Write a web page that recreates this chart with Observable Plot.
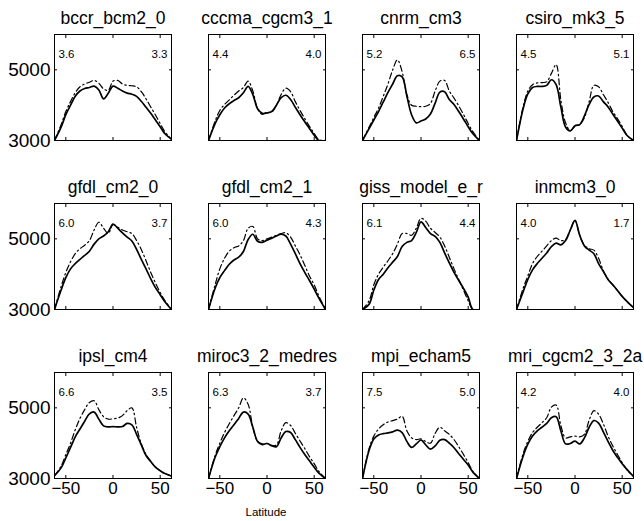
<!DOCTYPE html>
<html><head><meta charset="utf-8">
<script src="https://cdn.jsdelivr.net/npm/d3@7"></script>
<script src="https://cdn.jsdelivr.net/npm/@observablehq/plot@0.6"></script>
<style>
html,body{margin:0;padding:0;background:#fff;}
#wrap{position:relative;width:644px;height:521px;font-family:"Liberation Sans",Arial,sans-serif;overflow:hidden;}
#xlabel{position:absolute;left:216px;width:100px;top:506px;text-align:center;font-size:11.5px;color:#000;}
</style></head><body>
<div id="wrap"><div id="xlabel">Latitude</div></div>
<script>
const lat = [-62,-55,-50,-45,-40,-35,-30,-25,-20,-15,-10,-5,0,5,10,15,20,25,30,35,40,45,50,55,62];
const xTicks = [-50, 0, 50];
const yTicks = [3000, 5000];

const models = ["bccr_bcm2_0","cccma_cgcm3_1","cnrm_cm3","csiro_mk3_5","gfdl_cm2_0","gfdl_cm2_1","giss_model_e_r","inmcm3_0","ipsl_cm4","miroc3_2_medres","mpi_echam5","mri_cgcm2_3_2a"];
const leftVals  = ["3.6","4.4","5.2","4.5","6.0","6.0","6.1","4.0","6.6","6.3","7.5","4.2"];
const rightVals = ["3.3","4.0","6.5","5.1","3.7","4.3","4.4","1.7","3.5","3.7","5.0","4.0"];

const bccr_solid = [3000,3380,3730,4000,4250,4400,4470,4500,4540,4430,4180,4340,4540,4480,4400,4340,4310,4250,4110,3940,3770,3580,3390,3190,3040];
const bccr_dash  = [3000,3450,3820,4100,4350,4520,4600,4650,4700,4620,4460,4420,4680,4700,4600,4560,4550,4520,4380,4180,3950,3720,3480,3250,3030];
const cccma_solid = [3000,3480,3730,3920,4040,4130,4210,4350,4530,4300,3900,3770,3780,3820,4000,4210,4280,4160,3940,3730,3530,3340,3150,3000,3000];
const cccma_dash  = [3000,3550,3850,4020,4150,4280,4400,4500,4680,4400,3900,3740,3800,3800,4000,4300,4480,4380,4100,3850,3620,3400,3200,3020,3000];
const cnrm_solid = [3000,3340,3580,3820,4090,4360,4600,4830,4800,4260,3730,3500,3550,3610,3750,4060,4370,4380,4160,4020,3820,3610,3390,3190,3000];
const cnrm_dash  = [3000,3380,3650,3920,4250,4600,5000,5280,4950,4300,4000,3970,3960,3970,4050,4400,4680,4700,4400,4200,3980,3740,3480,3250,3000];
const csiro_solid = [3000,3900,4320,4500,4530,4530,4560,4720,4580,3950,3380,3270,3420,3450,3700,4020,4230,4260,4100,3950,3750,3550,3350,3150,3000];
const csiro_dash  = [3000,3950,4400,4580,4630,4640,4660,4900,5150,4150,3500,3280,3400,3450,3650,4100,4560,4520,4300,4080,3820,3620,3400,3150,3000];
const gfdl0_solid = [3000,3550,3900,4150,4300,4420,4530,4650,4850,5000,5080,5200,5420,5300,5170,5050,4940,4700,4420,4150,3870,3620,3420,3220,3000];
const gfdl0_dash  = [3000,3650,4050,4350,4580,4720,4820,4950,5250,5470,5300,5150,5400,5330,5250,5200,5150,4950,4700,4380,4050,3750,3480,3250,3000];
const gfdl1_solid = [3000,3600,3900,4100,4280,4400,4480,4640,4980,5130,4930,4900,4960,5020,5080,5130,5080,4850,4580,4300,4050,3820,3580,3320,3000];
const gfdl1_dash  = [3000,3700,4150,4450,4650,4750,4800,4950,5300,5350,5000,4950,5000,5050,5100,5150,5170,5050,4800,4550,4250,3950,3700,3380,3000];
const giss_solid = [3000,3150,3550,3850,4000,4180,4340,4500,4780,4900,4950,5180,5480,5320,5150,5070,4900,4600,4320,4050,3820,3600,3350,3000,3000];
const giss_dash  = [3000,3250,3700,4000,4200,4380,4580,4850,5150,5150,5100,5300,5580,5500,5300,5180,5050,4800,4480,4150,3850,3550,3250,3000,3000];
const inmcm_solid = [3000,3500,3850,4120,4300,4450,4600,4780,4880,4830,4950,5250,5520,5100,4800,4680,4580,4300,4080,3850,3700,3540,3370,3230,3050];
const inmcm_dash  = [3000,3600,3950,4300,4500,4650,4800,4950,5020,4950,4980,5250,5520,5100,4820,4720,4680,4450,4100,3860,3700,3540,3370,3230,3050];
const ipsl_solid = [3080,3300,3580,3880,4180,4400,4620,4830,4880,4680,4490,4460,4470,4460,4470,4560,4520,4250,3950,3650,3480,3320,3220,3140,3070];
const ipsl_dash  = [3080,3350,3680,4000,4380,4700,4950,5150,5200,4950,4750,4680,4690,4710,4780,4920,5000,4450,3980,3680,3490,3320,3220,3140,3070];
const miroc_solid = [3000,3600,3900,4150,4350,4520,4700,4880,4820,4450,4050,3960,3990,3930,3900,4150,4330,4300,4100,3880,3680,3500,3320,3150,3000];
const miroc_dash  = [3000,3650,4000,4300,4550,4780,5000,5280,5100,4450,4050,3980,3990,3930,3950,4350,4580,4500,4280,4060,3850,3620,3420,3200,3000];
const mpi_solid = [3000,3800,4120,4230,4270,4290,4320,4370,4300,4050,3880,3980,4090,3950,3830,3920,4080,4100,4000,3870,3700,3540,3380,3180,3000];
const mpi_dash  = [3000,3850,4200,4400,4520,4600,4640,4680,4760,4350,4150,4100,4120,4050,4000,4280,4450,4350,4250,4100,3900,3680,3450,3200,3000];
const mri_solid = [3000,3630,3970,4200,4350,4450,4560,4720,4750,4350,3980,3990,4060,3980,4150,4450,4640,4570,4320,4050,3800,3600,3420,3260,3060];
const mri_dash  = [3000,3700,4050,4300,4450,4580,4720,5020,5080,4500,4150,4180,4200,4180,4250,4650,4920,4820,4550,4200,3920,3680,3450,3250,3060];

const solids = [bccr_solid,cccma_solid,cnrm_solid,csiro_solid,gfdl0_solid,gfdl1_solid,giss_solid,inmcm_solid,ipsl_solid,miroc_solid,mpi_solid,mri_solid];
const dashes = [bccr_dash,cccma_dash,cnrm_dash,csiro_dash,gfdl0_dash,gfdl1_dash,giss_dash,inmcm_dash,ipsl_dash,miroc_dash,mpi_dash,mri_dash];

const wrap = document.getElementById("wrap");
const colLeft = [0, 154, 308, 462];
const rowTop = [0, 169, 338];
const font = '"Liberation Sans", Arial, sans-serif';
const blank = () => "";

models.forEach((name, i) => {
  const r = Math.floor(i / 4), c = i % 4;
  const solidData = lat.map((x, k) => ({x, y: solids[i][k]}));
  const dashData = lat.map((x, k) => ({x, y: dashes[i][k]}));
  const p = Plot.plot({
    width: 177, height: 171,
    marginLeft: 54, marginRight: 6, marginTop: 34, marginBottom: 31,
    style: {background: "transparent", fontFamily: font, color: "black", overflow: "visible"},
    x: {domain: [-62, 62], label: null},
    y: {domain: [3000, 6000], label: null},
    marks: [
      Plot.line(dashData, {x: "x", y: "y", stroke: "black", strokeWidth: 1.2, strokeDasharray: "6,3,1.5,3", curve: "catmull-rom", clip: true}),
      Plot.line(solidData, {x: "x", y: "y", stroke: "black", strokeWidth: 1.7, curve: "catmull-rom", clip: true}),
      Plot.frame({stroke: "black", strokeWidth: 1}),
      Plot.axisY(yTicks, {anchor: "left", label: null, tickSize: -3, tickPadding: 7, tickFormat: c === 0 ? d3.format("d") : blank, fontSize: 19}),
      Plot.axisY(yTicks, {anchor: "right", label: null, tickSize: -3, tickFormat: blank}),
      Plot.axisX(xTicks, {anchor: "bottom", label: null, tickSize: -3, tickPadding: 6, tickFormat: r === 2 ? d3.format("d") : blank, fontSize: 17}),
      Plot.axisX(xTicks, {anchor: "top", label: null, tickSize: -3, tickFormat: blank}),
      Plot.text([name], {frameAnchor: "top", dy: -11, lineAnchor: "bottom", fontSize: 17.5, text: d => d}),
      Plot.text([leftVals[i]], {frameAnchor: "top-left", dx: 4, dy: 20, textAnchor: "start", lineAnchor: "middle", fontSize: 11.5, text: d => d}),
      Plot.text([rightVals[i]], {frameAnchor: "top-right", dx: -4, dy: 20, textAnchor: "end", lineAnchor: "middle", fontSize: 11.5, text: d => d})
    ]
  });
  p.style.position = "absolute";
  p.style.left = colLeft[c] + "px";
  p.style.top = rowTop[r] + "px";
  wrap.appendChild(p);
});
</script>
</body></html>
